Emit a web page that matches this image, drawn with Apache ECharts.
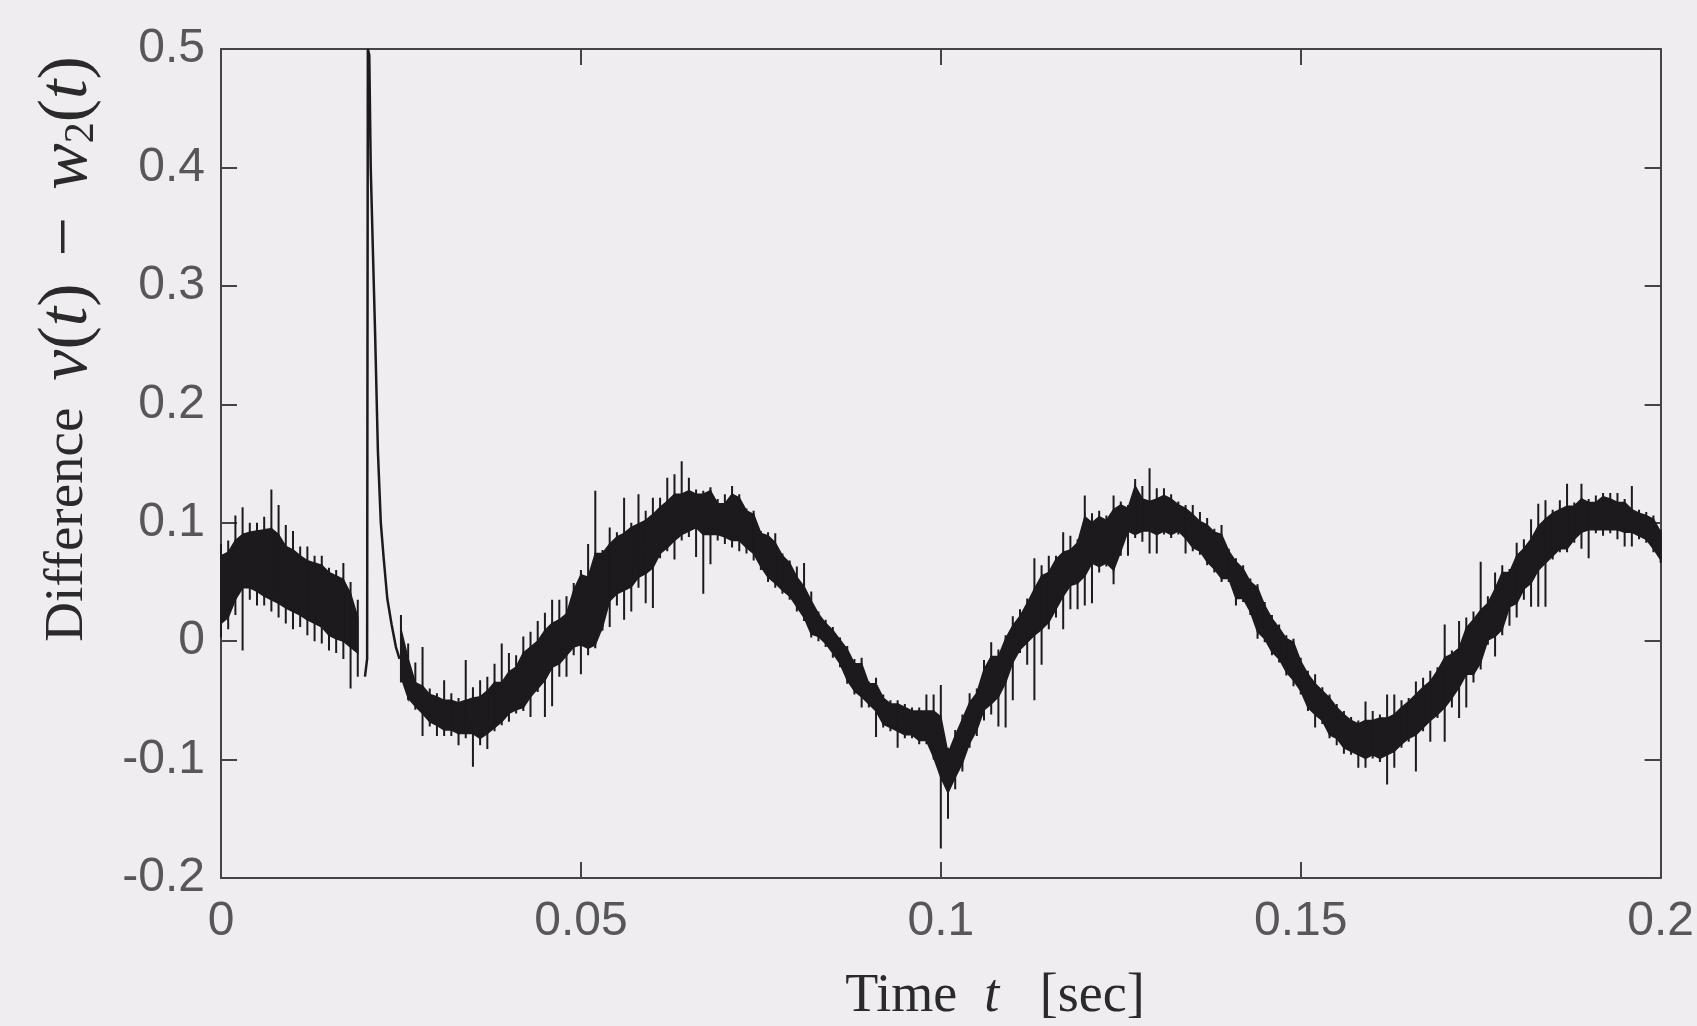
<!DOCTYPE html>
<html>
<head>
<meta charset="utf-8">
<title>Difference v(t) - w2(t)</title>
<script src="https://cdn.jsdelivr.net/npm/echarts@6/dist/echarts.min.js"></script>
<style>
html, body { margin: 0; padding: 0; background: #efedf0; }
#myChart { width: 1697px; height: 1026px; }
</style>
</head>
<body>
<div id="myChart"></div>
<script>
// traces, one sample per ms (index * step = time in sec)
var step = 0.001;

// dark core of the noisy trace (upper / lower edge), null where the peak is
var bandTop = [
  0.072, 0.075, 0.085, 0.090, 0.092, 0.093, 0.094, 0.095, 0.090, 0.080,
  0.077, 0.072, 0.068, 0.066, 0.064, 0.058, 0.055, 0.052, 0.040, 0.020,
  null, null, null, null, null, 0.010, -0.015, -0.035, -0.038, -0.045,
  -0.047, -0.050, -0.050, -0.052, -0.050, -0.048, -0.047, -0.042, -0.035, -0.035,
  -0.026, -0.022, -0.010, -0.005, 0.000, 0.009, 0.015, 0.018, 0.023, 0.043,
  0.056, 0.054, 0.074, 0.074, 0.082, 0.088, 0.091, 0.096, 0.099, 0.102,
  0.107, 0.113, 0.118, 0.124, 0.124, 0.127, 0.124, 0.124, 0.127, 0.116,
  0.116, 0.124, 0.121, 0.110, 0.107, 0.091, 0.089, 0.083, 0.072, 0.066,
  0.054, 0.046, 0.034, 0.023, 0.015, 0.009, 0.001, -0.007, -0.019, -0.019,
  -0.036, -0.036, -0.048, -0.053, -0.053, -0.056, -0.059, -0.059, -0.059, -0.059,
  -0.064, -0.095, -0.080, -0.066, -0.052, -0.044, -0.024, -0.013, -0.013, 0.002,
  0.013, 0.021, 0.032, 0.044, 0.055, 0.058, 0.069, 0.075, 0.077, 0.083,
  0.105, 0.100, 0.105, 0.102, 0.111, 0.115, 0.112, 0.131, 0.120, 0.118,
  0.120, 0.123, 0.120, 0.115, 0.112, 0.107, 0.101, 0.098, 0.092, 0.090,
  0.076, 0.067, 0.061, 0.050, 0.045, 0.030, 0.019, 0.011, 0.002, -0.001,
  -0.017, -0.028, -0.036, -0.042, -0.048, -0.056, -0.062, -0.067, -0.070, -0.067,
  -0.067, -0.065, -0.065, -0.062, -0.056, -0.051, -0.045, -0.039, -0.034, -0.025,
  -0.014, -0.011, -0.006, 0.011, 0.018, 0.026, 0.032, 0.044, 0.058, 0.058,
  0.072, 0.078, 0.086, 0.097, 0.103, 0.108, 0.111, 0.114, 0.114, 0.120,
  0.117, 0.117, 0.122, 0.120, 0.117, 0.117, 0.111, 0.108, 0.106, 0.103,
  0.092
];
var bandBot = [
  0.015, 0.020, 0.035, 0.045, 0.045, 0.042, 0.038, 0.035, 0.032, 0.028,
  0.025, 0.022, 0.018, 0.015, 0.012, 0.005, 0.002, 0.000, -0.005, -0.010,
  null, null, null, null, null, -0.030, -0.048, -0.055, -0.061, -0.068,
  -0.071, -0.075, -0.075, -0.078, -0.078, -0.078, -0.082, -0.078, -0.073, -0.068,
  -0.061, -0.058, -0.056, -0.047, -0.040, -0.033, -0.022, -0.019, -0.012, -0.005,
  -0.003, -0.006, -0.003, 0.012, 0.034, 0.040, 0.043, 0.046, 0.054, 0.057,
  0.062, 0.074, 0.079, 0.085, 0.090, 0.093, 0.096, 0.090, 0.090, 0.090,
  0.088, 0.085, 0.085, 0.079, 0.074, 0.063, 0.054, 0.049, 0.043, 0.038,
  0.029, 0.020, 0.006, 0.004, -0.002, -0.010, -0.019, -0.033, -0.042, -0.047,
  -0.053, -0.059, -0.070, -0.073, -0.076, -0.079, -0.079, -0.084, -0.084, -0.098,
  -0.115, -0.128, -0.115, -0.103, -0.086, -0.075, -0.058, -0.053, -0.047, -0.035,
  -0.018, -0.007, -0.001, 0.005, 0.010, 0.016, 0.027, 0.038, 0.047, 0.049,
  0.055, 0.066, 0.063, 0.066, 0.060, 0.076, 0.093, 0.090, 0.093, 0.093,
  0.090, 0.093, 0.090, 0.093, 0.087, 0.079, 0.076, 0.067, 0.061, 0.053,
  0.053, 0.036, 0.036, 0.025, 0.008, 0.002, -0.009, -0.015, -0.026, -0.033,
  -0.042, -0.056, -0.062, -0.067, -0.079, -0.082, -0.090, -0.093, -0.096, -0.099,
  -0.096, -0.099, -0.096, -0.093, -0.087, -0.082, -0.079, -0.073, -0.067, -0.062,
  -0.056, -0.048, -0.039, -0.028, -0.028, -0.018, 0.001, 0.004, 0.010, 0.029,
  0.032, 0.044, 0.049, 0.060, 0.066, 0.072, 0.078, 0.078, 0.086, 0.092,
  0.094, 0.094, 0.094, 0.094, 0.094, 0.092, 0.092, 0.089, 0.086, 0.078,
  0.069
];

// thin noise spikes around the core (max / min in each ms)
var spikeTop = [
  0.082, 0.085, 0.106, 0.113, 0.100, 0.100, 0.105, 0.128, 0.115, 0.098,
  0.093, 0.080, 0.080, 0.072, 0.072, 0.062, 0.060, 0.066, 0.050, 0.035,
  null, null, null, null, null, 0.022, -0.002, -0.018, -0.005, -0.040,
  -0.044, -0.033, -0.044, -0.048, -0.016, -0.039, -0.033, -0.030, -0.019, -0.002,
  -0.010, -0.012, 0.004, 0.008, 0.017, 0.024, 0.035, 0.035, 0.038, 0.049,
  0.060, 0.082, 0.127, 0.077, 0.096, 0.092, 0.121, 0.100, 0.124, 0.110,
  0.121, 0.121, 0.138, 0.141, 0.152, 0.138, 0.128, 0.127, 0.130, 0.120,
  0.124, 0.131, 0.124, 0.112, 0.110, 0.093, 0.092, 0.091, 0.074, 0.068,
  0.063, 0.066, 0.042, 0.025, 0.018, 0.012, 0.003, -0.004, -0.015, -0.014,
  -0.034, -0.031, -0.045, -0.050, -0.050, -0.053, -0.056, -0.056, -0.045, -0.045,
  -0.037, -0.090, -0.075, -0.062, -0.044, -0.040, -0.016, -0.001, -0.007, 0.005,
  0.021, 0.027, 0.036, 0.070, 0.064, 0.072, 0.072, 0.092, 0.089, 0.086,
  0.123, 0.108, 0.110, 0.106, 0.123, 0.118, 0.115, 0.137, 0.131, 0.146,
  0.129, 0.129, 0.124, 0.118, 0.115, 0.115, 0.109, 0.104, 0.095, 0.098,
  0.078, 0.070, 0.064, 0.053, 0.048, 0.033, 0.022, 0.014, 0.005, 0.002,
  -0.014, -0.025, -0.028, -0.039, -0.045, -0.053, -0.059, -0.064, -0.067, -0.051,
  -0.059, -0.062, -0.045, -0.045, -0.050, -0.048, -0.034, -0.031, -0.025, -0.022,
  0.014, -0.008, 0.017, 0.020, 0.025, 0.067, 0.038, 0.058, 0.064, 0.061,
  0.083, 0.086, 0.103, 0.116, 0.119, 0.111, 0.119, 0.133, 0.117, 0.133,
  0.120, 0.123, 0.125, 0.125, 0.125, 0.120, 0.131, 0.111, 0.109, 0.106,
  0.094
];
var spikeBot = [
  0.003, 0.010, 0.022, -0.008, 0.035, 0.030, 0.030, 0.025, 0.020, 0.015,
  0.010, 0.012, 0.005, 0.000, -0.002, -0.008, -0.010, -0.015, -0.040, -0.030,
  null, null, null, null, null, -0.035, -0.050, -0.058, -0.080, -0.072,
  -0.080, -0.080, -0.080, -0.088, -0.082, -0.106, -0.088, -0.091, -0.076, -0.071,
  -0.068, -0.061, -0.059, -0.064, -0.043, -0.064, -0.055, -0.030, -0.030, -0.012,
  -0.028, -0.012, -0.006, 0.009, 0.012, 0.030, 0.018, 0.025, 0.045, 0.032,
  0.028, 0.070, 0.076, 0.069, 0.085, 0.088, 0.071, 0.040, 0.065, 0.085,
  0.082, 0.079, 0.076, 0.074, 0.068, 0.060, 0.050, 0.045, 0.040, 0.035,
  0.025, 0.017, 0.003, 0.000, -0.005, -0.014, -0.022, -0.036, -0.045, -0.056,
  -0.056, -0.081, -0.073, -0.076, -0.090, -0.082, -0.082, -0.087, -0.087, -0.100,
  -0.175, -0.150, -0.125, -0.110, -0.090, -0.080, -0.067, -0.062, -0.072, -0.073,
  -0.050, -0.010, -0.020, -0.050, -0.020, 0.010, 0.020, 0.010, 0.027, 0.027,
  0.030, 0.032, 0.058, 0.063, 0.048, 0.072, 0.072, 0.087, 0.084, 0.074,
  0.074, 0.090, 0.087, 0.090, 0.074, 0.076, 0.073, 0.064, 0.058, 0.050,
  0.050, 0.030, 0.033, 0.022, 0.002, -0.001, -0.012, -0.018, -0.029, -0.038,
  -0.045, -0.059, -0.073, -0.070, -0.082, -0.088, -0.095, -0.096, -0.107, -0.107,
  -0.099, -0.102, -0.121, -0.107, -0.090, -0.085, -0.110, -0.076, -0.085, -0.065,
  -0.085, -0.056, -0.065, -0.056, -0.035, -0.024, -0.003, -0.013, 0.005, 0.013,
  0.020, 0.035, 0.029, 0.029, 0.029, 0.069, 0.075, 0.075, 0.083, 0.078,
  0.070, 0.091, 0.089, 0.091, 0.086, 0.080, 0.080, 0.086, 0.083, 0.075,
  0.066
];

// the big transient just after t = 0.02
var peakTime = [0.0200, 0.0203, 0.0204, 0.0206, 0.0208, 0.0211, 0.0214, 0.0218, 0.0222, 0.0226, 0.0231, 0.0237, 0.0243, 0.0248];
var peakValue = [-0.030, -0.015, 0.500, 0.495, 0.400, 0.330, 0.262, 0.160, 0.100, 0.070, 0.036, 0.014, -0.005, -0.015];

var ink = '#1d1a1e';
var axisColor = '#444';
var labelColor = '#575757';
var serif = 'Liberation Serif, Times New Roman, serif';

// build series data
var bandData = [], spikeData = [], peakData = [];
for (var i = 0; i < bandTop.length; i++) {
  var t = +(i * step).toFixed(4);
  if (i + 1 < bandTop.length && bandTop[i] != null && bandTop[i + 1] != null) {
    var t2 = +((i + 1) * step).toFixed(4);
    bandData.push([t, bandTop[i], bandBot[i], t2, bandTop[i + 1], bandBot[i + 1]]);
  }
  if (spikeTop[i] != null) {
    spikeData.push([t, spikeBot[i]], [t, spikeTop[i]], [t, '-']);
  }
}
for (var k = 0; k < peakTime.length; k++) {
  peakData.push([peakTime[k], peakValue[k]]);
}

var myChart = echarts.init(document.getElementById('myChart'));

function boxAxis(extra) {
  return Object.assign({
    axisLine: { show: true, onZero: false, lineStyle: { color: axisColor, width: 2 } },
    axisTick: { show: true, inside: true, length: 16, lineStyle: { color: axisColor, width: 2 } },
    splitLine: { show: false }
  }, extra);
}

myChart.setOption({
  animation: false,
  backgroundColor: '#efedf0',
  grid: { left: 221, right: 30, top: 49, bottom: 148 },
  xAxis: [
    boxAxis({
      type: 'value', min: 0, max: 0.2, interval: 0.05, position: 'bottom',
      axisLabel: {
        margin: 20, fontSize: 48, color: labelColor, fontFamily: 'Liberation Sans, Arial, sans-serif',
        formatter: function (v) { return String(Math.round(v * 100) / 100); }
      }
    }),
    boxAxis({
      type: 'value', min: 0, max: 0.2, interval: 0.05, position: 'top',
      axisLabel: { show: false }
    })
  ],
  yAxis: [
    boxAxis({
      type: 'value', min: -0.2, max: 0.5, interval: 0.1, position: 'left',
      axisLabel: {
        margin: 16, fontSize: 48, color: labelColor, fontFamily: 'Liberation Sans, Arial, sans-serif',
        formatter: function (v) { return String(Math.round(v * 10) / 10); }
      }
    }),
    boxAxis({
      type: 'value', min: -0.2, max: 0.5, interval: 0.1, position: 'right',
      axisLabel: { show: false }
    })
  ],
  graphic: [
    {
      type: 'text', x: 68, y: 349, rotation: Math.PI / 2,
      style: {
        text: '{r|Difference}  {i|v}{m|(}{i|t}{m|)}  {m|\u2212}  {i|w}{s|2}{m|(}{i|t}{m|)}',
        align: 'center', verticalAlign: 'middle',
        fill: '#2a2a2a', fontSize: 54, fontFamily: serif,
        rich: {
          r: { fontSize: 55, fontFamily: serif, fill: '#2a2a2a' },
          m: { fontSize: 70, fontFamily: serif, fill: '#2a2a2a' },
          i: { fontSize: 70, fontStyle: 'italic', fontFamily: serif, fill: '#2a2a2a' },
          s: { fontSize: 42, verticalAlign: 'bottom', fontFamily: serif, fill: '#2a2a2a' }
        }
      }
    },
    {
      type: 'text', x: 995, y: 997,
      style: {
        text: '{r|Time}  {i|t}   {r|[sec]}',
        align: 'center', verticalAlign: 'middle',
        fill: '#2a2a2a', fontSize: 54, fontFamily: serif,
        rich: {
          r: { fontSize: 54, fontFamily: serif, fill: '#2a2a2a' },
          i: { fontSize: 54, fontStyle: 'italic', fontFamily: serif, fill: '#2a2a2a' }
        }
      }
    }
  ],
  series: [
    {
      // solid core of the trace, one quad per ms
      name: 'core',
      type: 'custom',
      data: bandData,
      encode: { x: [0, 3], y: [1, 2, 4, 5] },
      renderItem: function (params, api) {
        var a = api.coord([api.value(0), api.value(1)]);
        var b = api.coord([api.value(3), api.value(4)]);
        var c = api.coord([api.value(3), api.value(5)]);
        var d = api.coord([api.value(0), api.value(2)]);
        return {
          type: 'polygon',
          shape: { points: [a, b, c, d] },
          style: { fill: ink, stroke: ink, lineWidth: 1.5 }
        };
      }
    },
    {
      name: 'spikes',
      type: 'line',
      data: spikeData,
      symbol: 'none',
      connectNulls: false,
      lineStyle: { color: ink, width: 2 }
    },
    {
      name: 'peak',
      type: 'line',
      data: peakData,
      symbol: 'none',
      lineStyle: { color: ink, width: 2.5 }
    }
  ]
});
</script>
</body>
</html>
